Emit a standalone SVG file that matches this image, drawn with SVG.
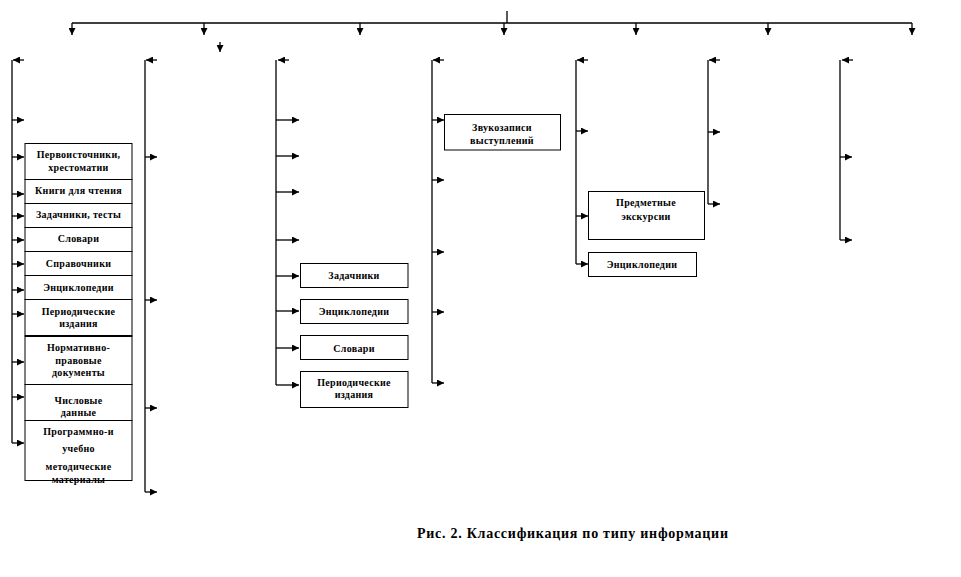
<svg xmlns="http://www.w3.org/2000/svg" width="961" height="577" viewBox="0 0 961 577">
<style>
.ln{stroke:#000;stroke-width:1.3;fill:none}
.box{fill:#fff;stroke:#000;stroke-width:1}
.t{font-family:"Liberation Serif","Times New Roman",serif;font-weight:bold;font-size:10px;letter-spacing:0.3px;text-anchor:middle;fill:#000}
.cap{font-family:"Liberation Serif","Times New Roman",serif;font-weight:bold;font-size:14px;fill:#000}
</style>
<defs>
<marker id="ah" markerUnits="userSpaceOnUse" markerWidth="7" markerHeight="7" refX="7" refY="3.5" orient="auto" viewBox="0 0 7 7">
<path d="M0,0 L7,3.5 L0,7 z" fill="#000"/>
</marker>
</defs>
<rect width="961" height="577" fill="#fff"/>
<g id="connectors">
<path class="ln" d="M507,11 L507,23 M72,23 L912,23"/>
<line class="ln" x1="72" y1="23" x2="72" y2="35" marker-end="url(#ah)"/>
<line class="ln" x1="204" y1="23" x2="204" y2="35" marker-end="url(#ah)"/>
<line class="ln" x1="360" y1="23" x2="360" y2="35" marker-end="url(#ah)"/>
<line class="ln" x1="504" y1="23" x2="504" y2="35" marker-end="url(#ah)"/>
<line class="ln" x1="636" y1="23" x2="636" y2="35" marker-end="url(#ah)"/>
<line class="ln" x1="768" y1="23" x2="768" y2="35" marker-end="url(#ah)"/>
<line class="ln" x1="912" y1="23" x2="912" y2="35" marker-end="url(#ah)"/>
<line class="ln" x1="220" y1="42" x2="220" y2="52" marker-end="url(#ah)"/>
<path class="ln" d="M12,60 L12,443"/>
<line class="ln" x1="24" y1="60" x2="13" y2="60" marker-end="url(#ah)"/>
<line class="ln" x1="12" y1="120" x2="24" y2="120" marker-end="url(#ah)"/>
<line class="ln" x1="12" y1="157" x2="24" y2="157" marker-end="url(#ah)"/>
<line class="ln" x1="12" y1="194" x2="24" y2="194" marker-end="url(#ah)"/>
<line class="ln" x1="12" y1="216" x2="24" y2="216" marker-end="url(#ah)"/>
<line class="ln" x1="12" y1="240" x2="24" y2="240" marker-end="url(#ah)"/>
<line class="ln" x1="12" y1="264" x2="24" y2="264" marker-end="url(#ah)"/>
<line class="ln" x1="12" y1="290" x2="24" y2="290" marker-end="url(#ah)"/>
<line class="ln" x1="12" y1="314" x2="24" y2="314" marker-end="url(#ah)"/>
<line class="ln" x1="12" y1="362" x2="24" y2="362" marker-end="url(#ah)"/>
<line class="ln" x1="12" y1="397" x2="24" y2="397" marker-end="url(#ah)"/>
<line class="ln" x1="12" y1="443" x2="24" y2="443" marker-end="url(#ah)"/>
<path class="ln" d="M145,60 L145,492"/>
<line class="ln" x1="157" y1="60" x2="146" y2="60" marker-end="url(#ah)"/>
<line class="ln" x1="145" y1="157" x2="157" y2="157" marker-end="url(#ah)"/>
<line class="ln" x1="145" y1="300" x2="157" y2="300" marker-end="url(#ah)"/>
<line class="ln" x1="145" y1="408" x2="157" y2="408" marker-end="url(#ah)"/>
<line class="ln" x1="145" y1="492" x2="157" y2="492" marker-end="url(#ah)"/>
<path class="ln" d="M276,60 L276,385"/>
<line class="ln" x1="289" y1="60" x2="278" y2="60" marker-end="url(#ah)"/>
<line class="ln" x1="276" y1="120" x2="299" y2="120" marker-end="url(#ah)"/>
<line class="ln" x1="276" y1="156" x2="299" y2="156" marker-end="url(#ah)"/>
<line class="ln" x1="276" y1="192" x2="299" y2="192" marker-end="url(#ah)"/>
<line class="ln" x1="276" y1="240" x2="299" y2="240" marker-end="url(#ah)"/>
<line class="ln" x1="276" y1="276" x2="299" y2="276" marker-end="url(#ah)"/>
<line class="ln" x1="276" y1="311" x2="299" y2="311" marker-end="url(#ah)"/>
<line class="ln" x1="276" y1="348" x2="299" y2="348" marker-end="url(#ah)"/>
<line class="ln" x1="276" y1="385" x2="299" y2="385" marker-end="url(#ah)"/>
<path class="ln" d="M432,60 L432,383"/>
<line class="ln" x1="444" y1="60" x2="433" y2="60" marker-end="url(#ah)"/>
<line class="ln" x1="432" y1="120" x2="444" y2="120" marker-end="url(#ah)"/>
<line class="ln" x1="432" y1="180" x2="444" y2="180" marker-end="url(#ah)"/>
<line class="ln" x1="432" y1="252" x2="444" y2="252" marker-end="url(#ah)"/>
<line class="ln" x1="432" y1="312" x2="444" y2="312" marker-end="url(#ah)"/>
<line class="ln" x1="432" y1="383" x2="444" y2="383" marker-end="url(#ah)"/>
<path class="ln" d="M576,60 L576,264"/>
<line class="ln" x1="588" y1="60" x2="577" y2="60" marker-end="url(#ah)"/>
<line class="ln" x1="576" y1="131" x2="588" y2="131" marker-end="url(#ah)"/>
<line class="ln" x1="576" y1="216" x2="588" y2="216" marker-end="url(#ah)"/>
<line class="ln" x1="576" y1="264" x2="588" y2="264" marker-end="url(#ah)"/>
<path class="ln" d="M708,60 L708,204"/>
<line class="ln" x1="720" y1="60" x2="709" y2="60" marker-end="url(#ah)"/>
<line class="ln" x1="708" y1="132" x2="720" y2="132" marker-end="url(#ah)"/>
<line class="ln" x1="708" y1="204" x2="720" y2="204" marker-end="url(#ah)"/>
<path class="ln" d="M840,60 L840,240"/>
<line class="ln" x1="853" y1="60" x2="842" y2="60" marker-end="url(#ah)"/>
<line class="ln" x1="840" y1="157" x2="852" y2="157" marker-end="url(#ah)"/>
<line class="ln" x1="840" y1="240" x2="852" y2="240" marker-end="url(#ah)"/>
</g>
<g id="n-pervoistochniki"><rect class="box" x="25" y="143.5" width="107" height="36"/><text class="t" x="78.5" y="158">Первоисточники,</text><text class="t" x="78.5" y="171">хрестоматии</text></g>
<g id="n-knigi"><rect class="box" x="25" y="179.5" width="107" height="24"/><text class="t" x="78.5" y="194">Книги для чтения</text></g>
<g id="n-zadachniki-testy"><rect class="box" x="25" y="203.5" width="107" height="24"/><text class="t" x="78.5" y="218">Задачники, тесты</text></g>
<g id="n-slovari1"><rect class="box" x="25" y="227.5" width="107" height="24"/><text class="t" x="78.5" y="242">Словари</text></g>
<g id="n-spravochniki"><rect class="box" x="25" y="251.5" width="107" height="24"/><text class="t" x="78.5" y="267">Справочники</text></g>
<g id="n-encikl1"><rect class="box" x="25" y="275.5" width="107" height="24"/><text class="t" x="78.5" y="291">Энциклопедии</text></g>
<g id="n-period1"><rect class="box" x="25" y="299.5" width="107" height="36.5"/><text class="t" x="78.5" y="314.5">Периодические</text><text class="t" x="78.5" y="327">издания</text></g>
<g id="n-normativ"><rect class="box" x="25" y="336" width="107" height="48.5"/><line x1="25" y1="336" x2="132" y2="336" stroke="#000" stroke-width="2"/><text class="t" x="78.5" y="351">Нормативно-</text><text class="t" x="78.5" y="364">правовые</text><text class="t" x="78.5" y="376">документы</text></g>
<g id="n-chislovye"><rect class="box" x="25" y="384.5" width="107" height="36"/><text class="t" x="78.5" y="403.5">Числовые</text><text class="t" x="78.5" y="416">данные</text></g>
<g id="n-programmno"><rect class="box" x="25" y="420.5" width="107" height="60"/><text class="t" x="78.5" y="435">Программно-и</text><text class="t" x="78.5" y="452">учебно</text><text class="t" x="78.5" y="470">методические</text><text class="t" x="78.5" y="482.5">материалы</text></g>
<g id="n-zadachniki"><rect class="box" x="300.5" y="263.5" width="107.5" height="24"/><text class="t" x="354" y="279">Задачники</text></g>
<g id="n-encikl2"><rect class="box" x="300.5" y="299.5" width="107.5" height="24"/><text class="t" x="354" y="315">Энциклопедии</text></g>
<g id="n-slovari2"><rect class="box" x="300.5" y="335.5" width="107.5" height="24"/><text class="t" x="354" y="351.5">Словари</text></g>
<g id="n-period2"><rect class="box" x="300.5" y="371.5" width="107.5" height="36"/><text class="t" x="354" y="386">Периодические</text><text class="t" x="354" y="398">издания</text></g>
<g id="n-zvukozapisi"><rect class="box" x="444.5" y="114.5" width="116" height="35.5"/><text class="t" x="502" y="131">Звукозаписи</text><text class="t" x="502" y="143.5">выступлений</text></g>
<g id="n-ekskursii"><rect class="box" x="588.5" y="191.5" width="116" height="48"/><text class="t" x="646" y="206">Предметные</text><text class="t" x="646" y="219.5">экскурсии</text></g>
<g id="n-encikl3"><rect class="box" x="588.5" y="252.5" width="108" height="24"/><text class="t" x="642" y="268">Энциклопедии</text></g>
<text class="cap" x="417" y="538" textLength="311" lengthAdjust="spacing">Рис. 2. Классификация по типу информации</text>
</svg>
